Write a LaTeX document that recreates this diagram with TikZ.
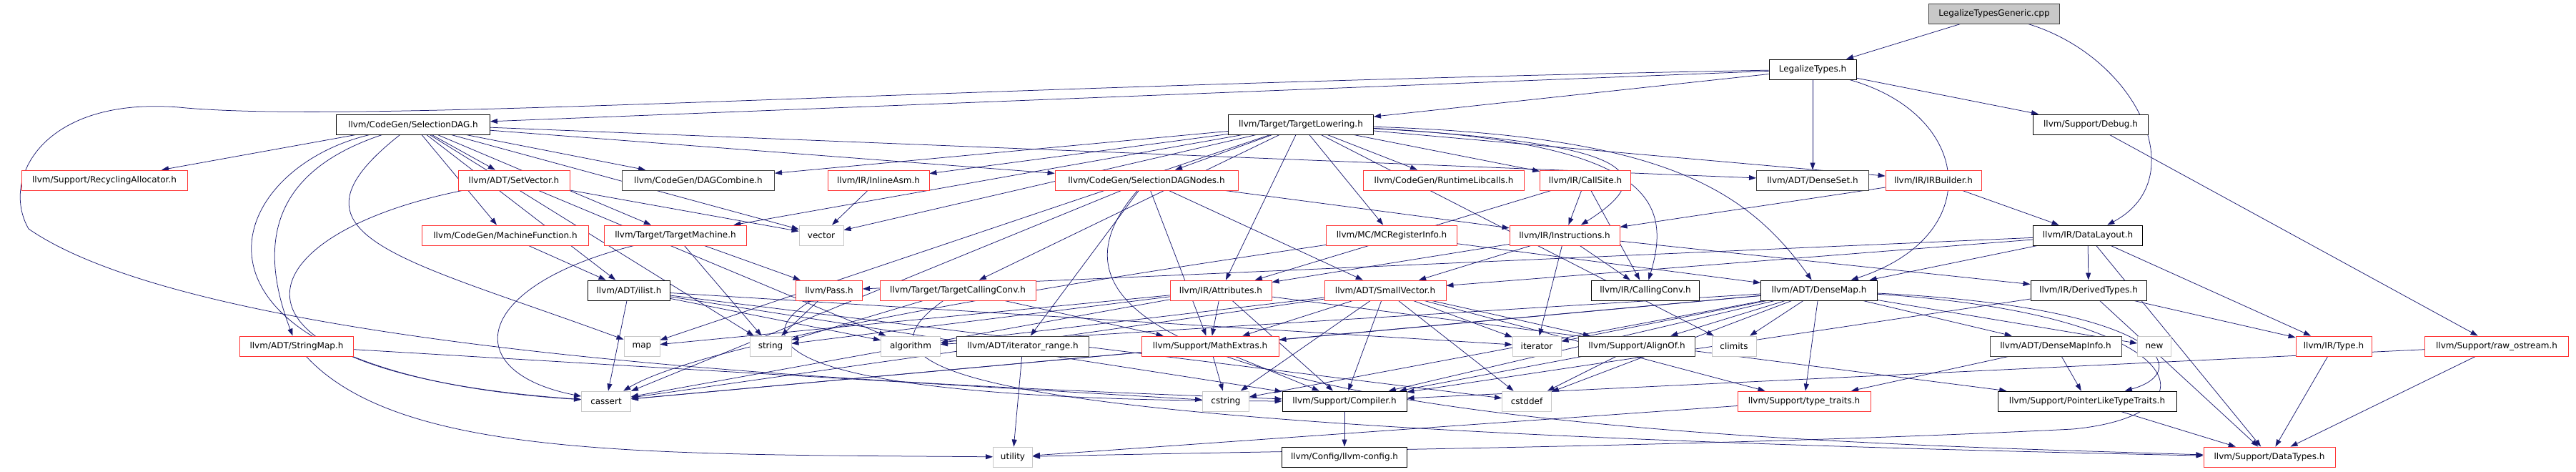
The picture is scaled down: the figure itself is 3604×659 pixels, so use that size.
\documentclass[tikz,border=0pt]{standalone}
\usepackage{fontspec}
\setmainfont{DejaVu Sans}
\usetikzlibrary{arrows.meta,backgrounds}
\definecolor{edgeblue}{HTML}{191970}
\definecolor{truncred}{HTML}{FF3333}
\definecolor{sysgray}{HTML}{C8C8C8}
\definecolor{nodocgray}{HTML}{404040}
\tikzset{
    hdr/.style={draw=black,fill=white,line width=0.9pt,minimum height=28pt,inner sep=0pt,font=\fontsize{12}{14}\selectfont},
    hdrred/.style={hdr,draw=truncred},
    hdrsys/.style={hdr,draw=sysgray},
    hdrdark/.style={hdr,draw=nodocgray},
    hdrroot/.style={hdr,draw=nodocgray,fill=sysgray},
    dep/.style={edgeblue,line width=0.75pt,-{Triangle[length=10pt,width=7pt]}}
}

\begin{document}
\begin{tikzpicture}[x=1pt,y=-1pt]
            \useasboundingbox (0,0) rectangle (3604,659);
            % top rows
            \node[hdrroot,minimum width=183] (cpp) at (2790,19) {LegalizeTypesGeneric.cpp};
            \node[hdr,minimum width=122] (legal) at (2536,97) {LegalizeTypes.h};
            \node[hdr,minimum width=215] (sdag) at (578,174) {llvm/CodeGen/SelectionDAG.h};
            \node[hdr,minimum width=203] (tlow) at (1820,174) {llvm/Target/TargetLowering.h};
            \node[hdr,minimum width=161] (debug) at (2925,174) {llvm/Support/Debug.h};

            \node[hdrred,minimum width=232] (recyc) at (146,252) {llvm/Support/RecyclingAllocator.h};
            \node[hdrred,minimum width=156] (setvec) at (719,252) {llvm/ADT/SetVector.h};
            \node[hdrdark,minimum width=213] (dagcomb) at (977,252) {llvm/CodeGen/DAGCombine.h};
            \node[hdrred,minimum width=142] (inasm) at (1229,252) {llvm/IR/InlineAsm.h};
            \node[hdrred,minimum width=256] (sdnodes) at (1604,252) {llvm/CodeGen/SelectionDAGNodes.h};
            \node[hdrred,minimum width=225] (rtlib) at (2020,252) {llvm/CodeGen/RuntimeLibcalls.h};
            \node[hdrred,minimum width=127] (callsite) at (2218,252) {llvm/IR/CallSite.h};
            \node[hdrdark,minimum width=157] (denseset) at (2536,252) {llvm/ADT/DenseSet.h};
            \node[hdrred,minimum width=134] (irbuild) at (2705,252) {llvm/IR/IRBuilder.h};

            \node[hdrred,minimum width=233] (mfunc) at (707,329) {llvm/CodeGen/MachineFunction.h};
            \node[hdrred,minimum width=199] (tmach) at (945,329) {llvm/Target/TargetMachine.h};
            \node[hdrsys,minimum width=62] (vector) at (1149,329) {vector};
            \node[hdrred,minimum width=183] (mcreg) at (1947,329) {llvm/MC/MCRegisterInfo.h};
            \node[hdrred,minimum width=154] (instr) at (2189,329) {llvm/IR/Instructions.h};
            \node[hdr,minimum width=153] (dlayout) at (2921,329) {llvm/IR/DataLayout.h};

            \node[hdr,minimum width=115] (ilist) at (880,406) {llvm/ADT/ilist.h};
            \node[hdrred,minimum width=93] (pass) at (1160,406) {llvm/Pass.h};
            \node[hdrred,minimum width=218] (tcconv) at (1340,406) {llvm/Target/TargetCallingConv.h};
            \node[hdrred,minimum width=142] (attrs) at (1708,406) {llvm/IR/Attributes.h};
            \node[hdrred,minimum width=170] (smallvec) at (1938,406) {llvm/ADT/SmallVector.h};
            \node[hdr,minimum width=151] (ccconv) at (2302,406) {llvm/IR/CallingConv.h};
            \node[hdr,minimum width=163] (densemap) at (2545,406) {llvm/ADT/DenseMap.h};
            \node[hdr,minimum width=162] (dertypes) at (2922,406) {llvm/IR/DerivedTypes.h};

            \node[hdrred,minimum width=159] (strmap) at (415,484) {llvm/ADT/StringMap.h};
            \node[hdrsys,minimum width=50] (map) at (898,484) {map};
            \node[hdrsys,minimum width=58] (string) at (1078,484) {string};
            \node[hdrsys,minimum width=83] (algo) at (1274,484) {algorithm};
            \node[hdrdark,minimum width=185] (itrange) at (1431,484) {llvm/ADT/iterator\_range.h};
            \node[hdrred,minimum width=192] (mathext) at (1693,484) {llvm/Support/MathExtras.h};
            \node[hdrsys,minimum width=68] (iterator) at (2150,484) {iterator};
            \node[hdrdark,minimum width=163] (alignof) at (2290,484) {llvm/Support/AlignOf.h};
            \node[hdrsys,minimum width=62] (climits) at (2426,484) {climits};
            \node[hdrdark,minimum width=184] (dminfo) at (2876,484) {llvm/ADT/DenseMapInfo.h};
            \node[hdrsys,minimum width=47] (new) at (3014,484) {new};
            \node[hdrred,minimum width=106] (type) at (3265,484) {llvm/IR/Type.h};
            \node[hdrred,minimum width=201] (rawos) at (3493,484) {llvm/Support/raw\_ostream.h};

            \node[hdrsys,minimum width=69] (cassert) at (848,561) {cassert};
            \node[hdrsys,minimum width=65] (cstring) at (1715,561) {cstring};
            \node[hdr,minimum width=174] (compiler) at (1881,561) {llvm/Support/Compiler.h};
            \node[hdrsys,minimum width=69] (cstddef) at (2136,561) {cstddef};
            \node[hdrred,minimum width=186] (typetr) at (2524,561) {llvm/Support/type\_traits.h};
            \node[hdr,minimum width=250] (pltt) at (2920,561) {llvm/Support/PointerLikeTypeTraits.h};

            \node[hdrsys,minimum width=55] (utility) at (1417,639) {utility};
            \node[hdr,minimum width=175] (config) at (1881,639) {llvm/Config/llvm-config.h};
            \node[hdrred,minimum width=184] (datatypes) at (3175,639) {llvm/Support/DataTypes.h};

            \begin{pgfonlayer}{background}
            % includes, one group per header
            \draw[dep] (cpp) -- (legal);
            \draw[dep] (cpp) .. controls (2990,80) and (3070,250) .. (dlayout);
            \foreach \t in {sdag,tlow,denseset,debug} \draw[dep] (legal) -- (\t);
            \draw[dep] (legal) .. controls (2760,160) and (2780,330) .. (densemap);
            \draw[dep] (legal) .. controls (1300,120) and (500,175) .. (250,150) .. controls (60,135) and (0,250) .. (40,320) .. controls (300,500) and (1300,540) .. (compiler);
            \foreach \t in {recyc,setvec,dagcomb,sdnodes,denseset,vector,mfunc,tmach,ilist,string} \draw[dep] (sdag) -- (\t);
            \draw[dep] (sdag) .. controls (300,240) and (210,520) .. (cassert);
            \draw[dep] (sdag) .. controls (380,240) and (360,340) .. (strmap);
            \draw[dep] (sdag) .. controls (380,330) and (560,360) .. (map);
            \foreach \t in {vector,algo} \draw[dep] (setvec) -- (\t);
            \draw[dep] (setvec) .. controls (330,330) and (270,520) .. (cassert);
            \draw[dep] (mfunc) -- (ilist);
            \foreach \t in {pass,string} \draw[dep] (tmach) -- (\t);
            \draw[dep] (tmach) .. controls (660,400) and (640,520) .. (cassert);
            \foreach \t in {algo,cassert,compiler,cstddef,iterator} \draw[dep] (ilist) -- (\t);
            \draw[dep] (strmap) -- (cstring);
            \draw[dep] (strmap) .. controls (560,640) and (900,635) .. (utility);
            \foreach \t in {dagcomb,inasm,vector,tmach,sdnodes,map,tcconv,attrs,rtlib,callsite,mcreg,irbuild,climits} \draw[dep] (tlow) -- (\t);
            \draw[dep] (tlow) .. controls (2280,200) and (2330,240) .. (instr);
            \draw[dep] (tlow) .. controls (2310,200) and (2340,280) .. (ccconv);
            \draw[dep] (tlow) .. controls (2320,190) and (2440,260) .. (densemap);
            \draw[dep] (inasm) -- (vector);
            \foreach \t in {smallvec,itrange,instr,mathext,cassert} \draw[dep] (sdnodes) -- (\t);
            \draw[dep] (sdnodes) .. controls (1300,600) and (2600,620) .. (datatypes);
            \foreach \t in {instr,ccconv,attrs} \draw[dep] (callsite) -- (\t);
            \foreach \t in {dlayout,instr} \draw[dep] (irbuild) -- (\t);
            \draw[dep] (mcreg) -- (densemap);
            \draw[dep] (mcreg) .. controls (1600,380) and (1000,470) .. (cassert);
            \foreach \t in {smallvec,attrs,ccconv,dertypes,iterator} \draw[dep] (instr) -- (\t);
            \foreach \t in {densemap,smallvec,dertypes,type,pass,datatypes} \draw[dep] (dlayout) -- (\t);
            \draw[dep] (debug) -- (rawos);
            \foreach \t in {mathext,pltt,cassert,map,string,compiler} \draw[dep] (attrs) -- (\t);
            \draw[dep] (pass) -- (string);
            \draw[dep] (pass) .. controls (1050,470) and (1050,560) .. (compiler);
            \foreach \t in {string,mathext} \draw[dep] (tcconv) -- (\t);
            \draw[dep] (tcconv) .. controls (1180,520) and (1300,600) .. (datatypes);
            \foreach \t in {alignof,compiler,mathext,typetr,algo,cassert,cstddef,cstring,iterator} \draw[dep] (smallvec) -- (\t);
            \foreach \t in {dminfo,alignof,compiler,mathext,typetr,algo,cassert,climits,cstddef,cstring,iterator,new} \draw[dep] (densemap) -- (\t);
            \draw[dep] (densemap) .. controls (3030,430) and (3070,520) .. (pltt);
            \draw[dep] (densemap) .. controls (3070,440) and (3110,580) .. (2900,600) .. controls (2400,625) and (1800,630) .. (utility);
            \foreach \t in {type,compiler,datatypes} \draw[dep] (dertypes) -- (\t);
            \foreach \t in {pltt,typetr} \draw[dep] (dminfo) -- (\t);
            \foreach \t in {cstring,compiler,cassert} \draw[dep] (mathext) -- (\t);
            \draw[dep] (itrange) -- (utility);
            \foreach \t in {compiler,cstddef} \draw[dep] (alignof) -- (\t);
            \draw[dep] (typetr) -- (utility);
            \draw[dep] (pltt) -- (datatypes);
            \draw[dep] (type) -- (datatypes);
            \foreach \t in {compiler,datatypes} \draw[dep] (rawos) -- (\t);
            \draw[dep] (compiler) -- (config);
            \end{pgfonlayer}
\end{tikzpicture}
\end{document}
